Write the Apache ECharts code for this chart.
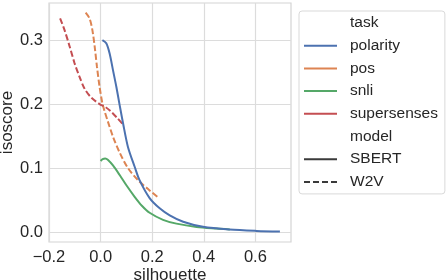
<!DOCTYPE html>
<html>
<head>
<meta charset="utf-8">
<script src="https://cdn.jsdelivr.net/npm/echarts@6/dist/echarts.min.js"></script>
<style>
html,body{margin:0;padding:0;background:#fff;}
#c{width:448px;height:280px;}
</style>
</head>
<body>
<div id="c"></div>
<script>
// Data (x = silhouette, y = isoscore)
const polarity = [[0.007,0.300],[0.022,0.295],[0.035,0.279],[0.048,0.253],[0.061,0.227],[0.074,0.198],[0.087,0.170],[0.106,0.133],[0.132,0.102],[0.151,0.081],[0.190,0.053],[0.229,0.037],[0.268,0.026],[0.320,0.016],[0.397,0.008],[0.500,0.0037],[0.605,0.0016],[0.695,0.0006]];
const pos = [[-0.058,0.343],[-0.043,0.334],[-0.032,0.316],[-0.023,0.290],[-0.014,0.258],[-0.004,0.227],[0.007,0.201],[0.016,0.188],[0.028,0.173],[0.048,0.149],[0.074,0.124],[0.106,0.100],[0.145,0.081],[0.184,0.067],[0.220,0.055]];
const snli = [[0.000,0.111],[0.008,0.114],[0.018,0.115],[0.028,0.113],[0.048,0.104],[0.074,0.089],[0.100,0.073],[0.132,0.055],[0.160,0.041],[0.190,0.030],[0.242,0.019],[0.294,0.013],[0.372,0.0078],[0.449,0.0053],[0.501,0.004]];
const supersenses = [[-0.157,0.334],[-0.140,0.316],[-0.120,0.290],[-0.101,0.264],[-0.082,0.243],[-0.062,0.224],[-0.036,0.210],[-0.004,0.200],[0.020,0.195],[0.041,0.188],[0.065,0.178],[0.087,0.168]];

const xTicks = [-0.2, 0.0, 0.2, 0.4, 0.6];
const yTicks = [0.0, 0.1, 0.2, 0.3];

const taskNames = ['polarity','pos','snli','supersenses'];
const taskColors = ['#4c72b0','#dd8452','#55a868','#c44e52'];
const modelNames = ['SBERT','W2V'];

const FONT = 'Liberation Sans, Arial, sans-serif';
const TXT = '#262626';
const DASH = [6, 2.6];

function lineSeries(name, data, color, dashed){
  return {
    name, type:'line', data, smooth:0.3, showSymbol:false, symbol:'none',
    lineStyle:{color, width:2, type: dashed ? DASH : 'solid'}, itemStyle:{color}, z: 3
  };
}

const fmt = v => { const s = Math.abs(v).toFixed(1); return v < -1e-9 ? '\u2212' + s : s; };

const dashPath = 'path://M0,0h6v2h-6z M9,0h6v2h-6z M18,0h6v2h-6z M27,0h6v2h-6z';

const option = {
  animation:false,
  textStyle:{fontFamily:FONT},
  grid:{left:49, top:3, right:157, bottom:38, show:true, borderColor:'#d4d4d4', borderWidth:1.2, containLabel:false, outerBoundsMode:'none'},
  xAxis:{
    type:'value', min:-0.2, max:0.738,
    name:'silhouette', nameLocation:'middle', nameGap:25, nameMoveOverlap:false,
    nameTextStyle:{fontSize:17, color:TXT, fontFamily:FONT, verticalAlign:'top'},
    axisLine:{show:false}, axisTick:{show:false, customValues:xTicks},
    axisLabel:{customValues:xTicks, formatter:fmt, fontSize:16.5, color:TXT, margin:7, fontFamily:FONT},
    splitLine:{show:true, lineStyle:{color:'#dcdcdc', width:1.2}}
  },
  yAxis:{
    type:'value', min:-0.0157, max:0.358,
    name:'isoscore', nameLocation:'middle', nameGap:33, nameMoveOverlap:false,
    nameTextStyle:{fontSize:17, color:TXT, fontFamily:FONT},
    axisLine:{show:false}, axisTick:{show:false, customValues:yTicks},
    axisLabel:{customValues:yTicks, formatter:v=>v.toFixed(1), fontSize:16.5, color:TXT, margin:6, fontFamily:FONT},
    splitLine:{show:true, lineStyle:{color:'#dcdcdc', width:1.2}}
  },
  legend:{
    orient:'vertical', left:299, top:11,
    padding:[4,7,4,5], itemWidth:33, itemHeight:2, itemGap:6.7,
    borderColor:'#d9d9d9', borderWidth:1, borderRadius:3, backgroundColor:'#fff',
    textStyle:{fontSize:15.5, color:TXT, lineHeight:16, fontFamily:FONT, padding:[0,0,0,8]},
    selectedMode:false,
    data:[
      {name:'task', icon:'rect', itemStyle:{color:'rgba(0,0,0,0)', borderWidth:0}},
      ...taskNames.map((n,i)=>({name:n, icon:'rect', itemStyle:{color:taskColors[i], borderWidth:0}, lineStyle:{width:0}})),
      {name:'model', icon:'rect', itemStyle:{color:'rgba(0,0,0,0)', borderWidth:0}},
      {name:modelNames[0], icon:'rect', itemStyle:{color:'#3a3a3a', borderWidth:0}},
      {name:modelNames[1], icon:dashPath, itemStyle:{color:'#3a3a3a', borderWidth:0}}
    ]
  },
  series:[
    lineSeries('polarity', polarity, taskColors[0], false),
    lineSeries('pos', pos, taskColors[1], true),
    lineSeries('snli', snli, taskColors[2], false),
    lineSeries('supersenses', supersenses, taskColors[3], true),
    {name:'task', type:'line', data:[], itemStyle:{color:'rgba(0,0,0,0)'}},
    {name:'model', type:'line', data:[], itemStyle:{color:'rgba(0,0,0,0)'}},
    {name:'SBERT', type:'line', data:[], itemStyle:{color:'#3a3a3a'}},
    {name:'W2V', type:'line', data:[], itemStyle:{color:'#3a3a3a'}}
  ]
};

option.series[0].z = 4;

const chart = echarts.init(document.getElementById('c'), null, {renderer:'canvas'});
chart.setOption(option);
</script>
</body>
</html>
